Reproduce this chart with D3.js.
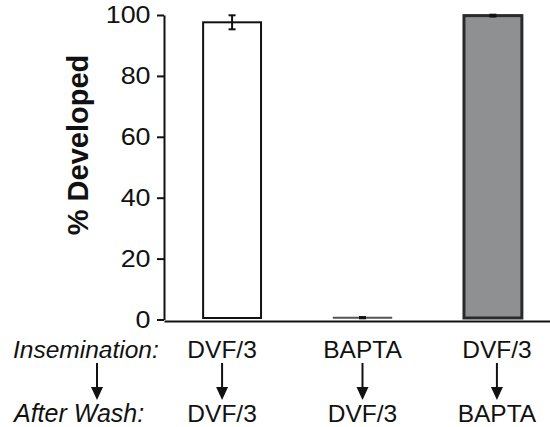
<!DOCTYPE html>
<html>
<head>
<meta charset="utf-8">
<script src="https://cdn.jsdelivr.net/npm/d3@7"></script>
<style>
  body { margin: 0; background: #fff; }
  text { font-family: "Liberation Sans", Arial, sans-serif; fill: #111; }
</style>
</head>
<body>
<div id="chart"></div>
<script>
// data
var groups = ["g1", "g2", "g3"];
var means = [97.6, 0.6, 99.8];
var errs = [2.3, 0.2, 0.3];
var insemination = ["DVF/3", "BAPTA", "DVF/3"];
var afterWash = ["DVF/3", "DVF/3", "BAPTA"];
var yTicks = [0, 20, 40, 60, 80, 100];

var svgWidth = 550;
var svgHeight = 427;

var svg = d3.select("#chart")
    .append("svg")
    .attr("width", svgWidth)
    .attr("height", svgHeight);

var x = d3.scaleBand()
    .domain(groups)
    .range([164, 561])
    .paddingInner(0.556)
    .paddingOuter(0.3);

var y = d3.scaleLinear().domain([0, 100]).range([319.5, 15]);

// label columns sit a little off the bar centres
var labelShift = [-10, 0, 4];
var fills = ["#ffffff", "#ffffff", "#8e9092"];
var strokes = ["#111", "#555", "#2a2a2a"];
var strokeW = [2, 1.5, 3];
var base = y(0) - 1.5;

// bars
svg.selectAll("rect.bar")
    .data(groups)
    .enter()
    .append("rect")
    .attr("class", "bar")
    .attr("x", function(d) { return x(d); })
    .attr("width", x.bandwidth())
    .attr("y", function(d, i) { return Math.min(y(means[i]), base - 0.5); })
    .attr("height", function(d, i) { return Math.max(0.5, base - y(means[i])); })
    .attr("fill", function(d, i) { return fills[i]; })
    .attr("stroke", function(d, i) { return strokes[i]; })
    .attr("stroke-width", function(d, i) { return strokeW[i]; });

// error bars
var eb = svg.selectAll("g.err")
    .data(groups)
    .enter()
    .append("g")
    .attr("class", "err")
    .attr("stroke", "#111")
    .attr("stroke-width", 2);

eb.append("line")
    .attr("x1", function(d) { return x(d) + x.bandwidth() / 2; })
    .attr("x2", function(d) { return x(d) + x.bandwidth() / 2; })
    .attr("y1", function(d, i) { return y(means[i] + errs[i]); })
    .attr("y2", function(d, i) { return y(means[i] - errs[i]); });

[1, -1].forEach(function(s) {
    eb.append("line")
        .attr("x1", function(d) { return x(d) + x.bandwidth() / 2 - 3.5; })
        .attr("x2", function(d) { return x(d) + x.bandwidth() / 2 + 3.5; })
        .attr("y1", function(d, i) { return y(means[i] + s * errs[i]); })
        .attr("y2", function(d, i) { return y(means[i] + s * errs[i]); });
});

// y axis
var yAxis = svg.append("g")
    .attr("transform", "translate(164,0)")
    .call(d3.axisLeft(y).tickValues(yTicks).tickSize(7).tickSizeOuter(0).tickPadding(5));
yAxis.select(".domain").attr("stroke", "#111").attr("stroke-width", 2);
yAxis.selectAll(".tick line").attr("stroke", "#111").attr("stroke-width", 2);
yAxis.selectAll(".tick text")
    .attr("font-size", "24px")
    .attr("font-family", "Liberation Sans, Arial, sans-serif")
    .attr("fill", "#111")
    .attr("transform", "scale(1.12,1)");

// x axis line
var xAxis = svg.append("g")
    .attr("transform", "translate(0," + (y(0) + 1.5) + ")")
    .call(d3.axisBottom(x).tickSize(0).tickSizeOuter(0).tickFormat(""));
xAxis.select(".domain").attr("stroke", "#111").attr("stroke-width", 2);

// y label
svg.append("text")
    .attr("transform", "translate(88,145) rotate(-90)")
    .attr("text-anchor", "middle")
    .attr("font-size", "29px")
    .attr("font-weight", "bold")
    .text("% Developed");

// condition rows
function colX(i) { return x(groups[i]) + x.bandwidth() / 2 + labelShift[i]; }

svg.append("text")
    .attr("x", 13).attr("y", 358)
    .attr("font-size", "24.5px").attr("font-style", "italic")
    .text("Insemination:");
svg.append("text")
    .attr("x", 14).attr("y", 422)
    .attr("font-size", "25px").attr("font-style", "italic")
    .text("After Wash:");

svg.selectAll("text.ins")
    .data(insemination)
    .enter()
    .append("text")
    .attr("class", "ins")
    .attr("x", function(d, i) { return colX(i); })
    .attr("y", 358)
    .attr("text-anchor", "middle")
    .attr("font-size", "24.5px")
    .text(function(d) { return d; });

svg.selectAll("text.wash")
    .data(afterWash)
    .enter()
    .append("text")
    .attr("class", "wash")
    .attr("x", function(d, i) { return colX(i); })
    .attr("y", 422)
    .attr("text-anchor", "middle")
    .attr("font-size", "24.5px")
    .text(function(d) { return d; });

// arrows
var arrowX = [97].concat(groups.map(function(d, i) { return colX(i); }));
var arrows = svg.selectAll("g.arrow")
    .data(arrowX)
    .enter()
    .append("g")
    .attr("class", "arrow")
    .attr("transform", function(d) { return "translate(" + d + ",0)"; });
arrows.append("line")
    .attr("x1", 0).attr("x2", 0)
    .attr("y1", 363).attr("y2", 389)
    .attr("stroke", "#111").attr("stroke-width", 2);
arrows.append("path")
    .attr("d", "M-6,387L6,387L0,400Z")
    .attr("fill", "#111");
</script>
</body>
</html>
